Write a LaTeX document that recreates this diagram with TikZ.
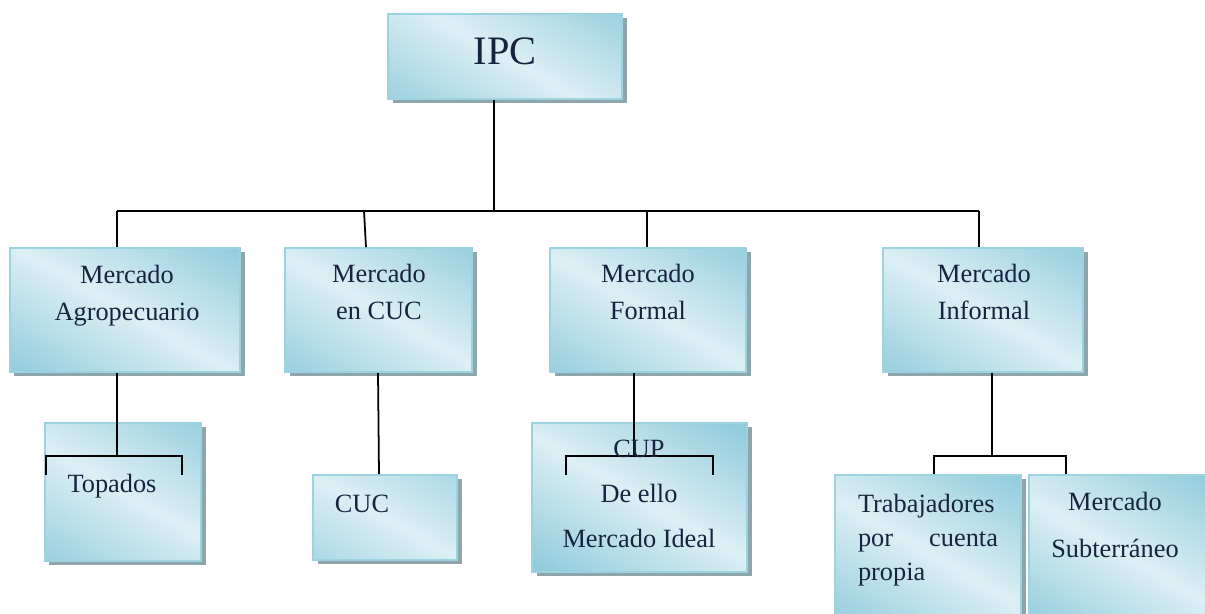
\documentclass[tikz,border=0pt]{standalone}
\usepackage{fontspec}
\setmainfont{Liberation Serif}
\usetikzlibrary{shadows,fit}

\definecolor{boxlight}{HTML}{DDEFF5}
\definecolor{boxdark}{HTML}{92CCDC}
\definecolor{boxline}{HTML}{9DD2E0}
\definecolor{shadowgray}{HTML}{8FA5AC}
\definecolor{txtblue}{HTML}{17243F}

\tikzset{
  box/.style={draw=boxline, line width=1pt, inner sep=0pt, fill=boxdark,
    drop shadow={shadow xshift=0.09cm, shadow yshift=-0.09cm, fill=shadowgray, opacity=1},
    path picture={
      \shade[top color=boxdark, bottom color=boxdark, middle color=boxlight,
        transform canvas={rotate around={-30:(path picture bounding box.center)}}]
        ([shift={(-3.4cm,-2.2cm)}]path picture bounding box.center)
        rectangle ([shift={(3.4cm,2.2cm)}]path picture bounding box.center);
    }},
  txt/.style={text=txtblue, align=center, inner sep=0pt, font=\fontsize{15}{21}\selectfont},
  link/.style={line width=1pt, black},
}

\begin{document}
\begin{tikzpicture}[x=0.02cm, y=-0.02cm]
    \useasboundingbox (0,0) rectangle (1205,614);
    \clip (0,0) rectangle (1205,614);

    % Boxes
    \node[box, fit={(388,14) (622,99)}] (ipc) {};
    \node[box, fit={(10,248) (240,372)}] (agro) {};
    \node[box, fit={(285,248) (472,372)}] (encuc) {};
    \node[box, fit={(550,248) (746,372)}] (formal) {};
    \node[box, fit={(883,248) (1083,372)}] (informal) {};
    \node[box, fit={(45,423) (201,561)}] (topados) {};
    \node[box, fit={(313,475) (457,560)}] (cuc) {};
    \node[box, fit={(532,423) (747,572)}] (cup) {};
    \node[box, fit={(835,475) (1021,630)}] (trab) {};
    \node[box, fit={(1029,475) (1212,630)}] (subt) {};

    % Tree lines
    \coordinate (hub) at (494,211);
    \coordinate (busL) at (117,211);
    \coordinate (busR) at (979,211);
    \draw[link] (ipc.south -| hub) -- (hub);
    \draw[link] (busL) -- (busR);
    \draw[link] (busL) -- (busL |- agro.north);
    \draw[link] (364,211) -- (encuc.north -| 366,0);
    \draw[link] (647,211) -- (formal.north -| 647,0);
    \draw[link] (busR) -- (busR |- informal.north);

    % Second level
    \draw[link] (agro.south -| 117,0) -- (117,456);
    \draw[link] (46,475) |- (182,456) -- (182,475);
    \draw[link] (encuc.south -| 378,0) -- (cuc.north -| 379,0);
    \draw[link] (formal.south -| 634,0) -- (634,456);
    \draw[link] (566,475) |- (713,456) -- (713,475);
    \draw[link] (informal.south -| 992,0) -- (992,456);
    \draw[link] (trab.north -| 934,0) |- (1066,456) -- (subt.north -| 1066,0);

    % Texts
    \node[txt, font=\fontsize{23}{28}\selectfont] (ipct) at (505,51) {IPC};
    \node[txt] (agrot) at (127,296) {Mercado\\Agropecuario};
    \node[txt] (encuct) at (379,292) {Mercado\\en CUC};
    \node[txt] (formalt) at (648,292) {Mercado\\Formal};
    \node[txt] (informalt) at (984,292) {Mercado\\Informal};
    \node[txt] (topadost) at (112,486) {Topados};
    \node[txt] (cuct) at (362,504) {CUC};
    \node[txt, font=\fontsize{15}{25.8}\selectfont] (cupt) at (639,494) {CUP\\De ello\\Mercado Ideal};
    \node[txt, align=left, text width=2.8cm, font=\fontsize{15}{19.4}\selectfont] (trabt) at (928,540) {Trabajadores\\por\hfill cuenta\\propia};
    \node[txt, font=\fontsize{15}{27}\selectfont] (subtt) at (1115,525) {Mercado\\Subterráneo};
\end{tikzpicture}
\end{document}
